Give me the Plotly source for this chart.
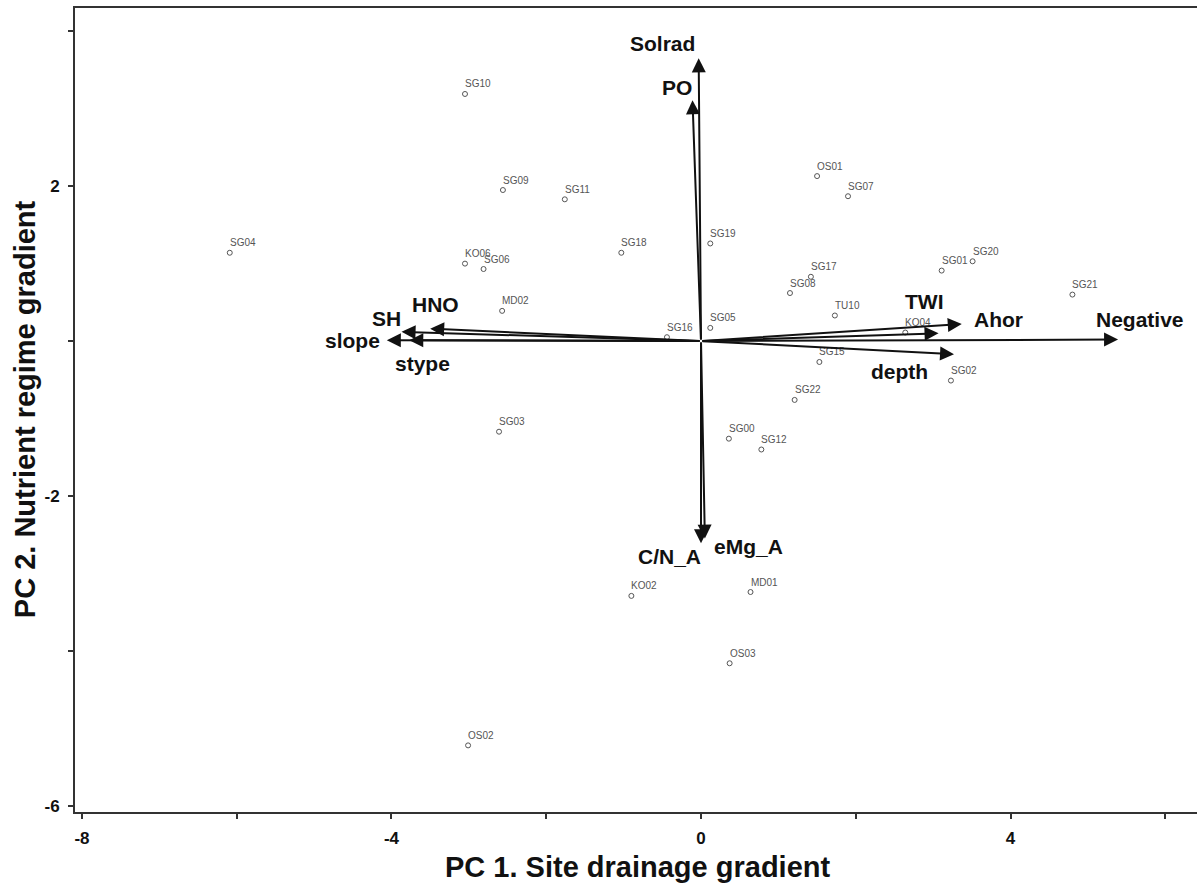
import plotly.graph_objects as go

# ---- Site scores (PC1, PC2) ----
sites = ["SG04", "SG10", "SG09", "SG11", "KO06", "SG06", "SG18", "SG19", "OS01", "SG07",
         "SG01", "SG20", "SG17", "SG08", "SG21", "MD02", "SG16", "SG05", "SG03", "SG00",
         "SG12", "SG15", "SG22", "TU10", "KO04", "SG02", "KO02", "MD01", "OS03", "OS02"]
pc1 = [-6.09, -3.05, -2.56, -1.76, -3.05, -2.81, -1.03, 0.12, 1.50, 1.90,
       3.11, 3.51, 1.42, 1.15, 4.80, -2.57, -0.44, 0.12, -2.61, 0.36,
       0.78, 1.53, 1.21, 1.73, 2.64, 3.23, -0.90, 0.64, 0.37, -3.01]
pc2 = [1.14, 3.19, 1.95, 1.83, 1.00, 0.93, 1.14, 1.26, 2.13, 1.87,
       0.91, 1.03, 0.83, 0.62, 0.60, 0.39, 0.05, 0.17, -1.17, -1.26,
       -1.40, -0.27, -0.76, 0.33, 0.11, -0.51, -3.29, -3.24, -4.16, -5.22]

# ---- Variable loadings (arrow tips) ----
variables = ["Solrad", "PO", "C/N_A", "eMg_A", "HNO", "SH", "slope", "stype",
             "TWI", "Ahor", "Negative", "depth"]
load1 = [-0.03, -0.11, 0.00, 0.05, -3.50, -3.87, -4.06, -3.77, 3.07, 3.37, 5.39, 3.27]
load2 = [3.65, 3.11, -2.61, -2.55, 0.16, 0.12, 0.01, 0.01, 0.10, 0.22, 0.02, -0.17]

# ---- tick labels ----
x_tickvals = [-8, -6, -4, -2, 0, 2, 4, 6]
x_ticktext = ["-8", "", "-4", "", "0", "", "4", ""]
y_tickvals = [-6, -4, -2, 0, 2, 4]
y_ticktext = ["-6", "", "-2", "", "2", ""]

# label pixel offsets from arrow tips (style only)
label_dx = [-36, -15, -32, 44, 5, -15, -34, 13, -15, 37, 22, -55]
label_dy = [15, 13, -13, -8, 24, 13, 0, -23, 32, 5, 20, -17]

FONT = "Liberation Sans, Arial, sans-serif"
INK = "#111111"

fig = go.Figure()
fig.add_trace(go.Scatter(
    x=pc1, y=pc2, mode="markers",
    marker=dict(symbol="circle-open", size=5, color="#555555", line=dict(width=1)),
    hoverinfo="text", text=sites, showlegend=False))

ann = []
for s, x, y in zip(sites, pc1, pc2):
    ann.append(dict(x=x, y=y, xref="x", yref="y", text=s, showarrow=False,
                    xanchor="left", yanchor="middle", xshift=-2, yshift=10,
                    font=dict(family=FONT, size=10, color="#555555")))

for v, x, y, dx, dy in zip(variables, load1, load2, label_dx, label_dy):
    ann.append(dict(x=x, y=y, xref="x", yref="y", ax=0, ay=0, axref="x", ayref="y",
                    text="", showarrow=True, arrowhead=2, arrowsize=1.4,
                    arrowwidth=2, arrowcolor=INK, standoff=0))
    ann.append(dict(x=x, y=y, xref="x", yref="y", text=v, showarrow=False,
                    xanchor="center", yanchor="middle", xshift=dx, yshift=dy,
                    font=dict(family=FONT, size=21, color=INK, weight="bold")))

ann.append(dict(x=0.501, y=-0.0684, xref="paper", yref="paper",
                text="PC 1. Site drainage gradient", showarrow=False,
                xanchor="center", yanchor="middle",
                font=dict(family=FONT, size=29, color=INK, weight="bold")))
ann.append(dict(x=-0.0446, y=0.501, xref="paper", yref="paper",
                text="PC 2. Nutrient regime gradient", showarrow=False, textangle=-90,
                xanchor="center", yanchor="middle",
                font=dict(family=FONT, size=29, color=INK, weight="bold")))

axis_common = dict(showgrid=False, zeroline=False, showline=True, linewidth=2,
                   linecolor="#333333", ticks="outside", ticklen=5, tickwidth=1.5,
                   tickcolor="#333333", ticklabelstandoff=5,
                   tickfont=dict(family=FONT, size=17, color=INK, weight="bold"))

fig.update_layout(
    width=1197, height=886,
    margin=dict(l=75, r=0, t=8, b=74),
    paper_bgcolor="white", plot_bgcolor="white",
    xaxis=dict(range=[-8.09, 6.41], tickvals=x_tickvals, ticktext=x_ticktext,
               mirror=True, **axis_common),
    yaxis=dict(range=[-6.08, 4.30], tickvals=y_tickvals, ticktext=y_ticktext,
               **axis_common),
    annotations=ann,
    showlegend=False,
)

fig.write_html("out.html")
